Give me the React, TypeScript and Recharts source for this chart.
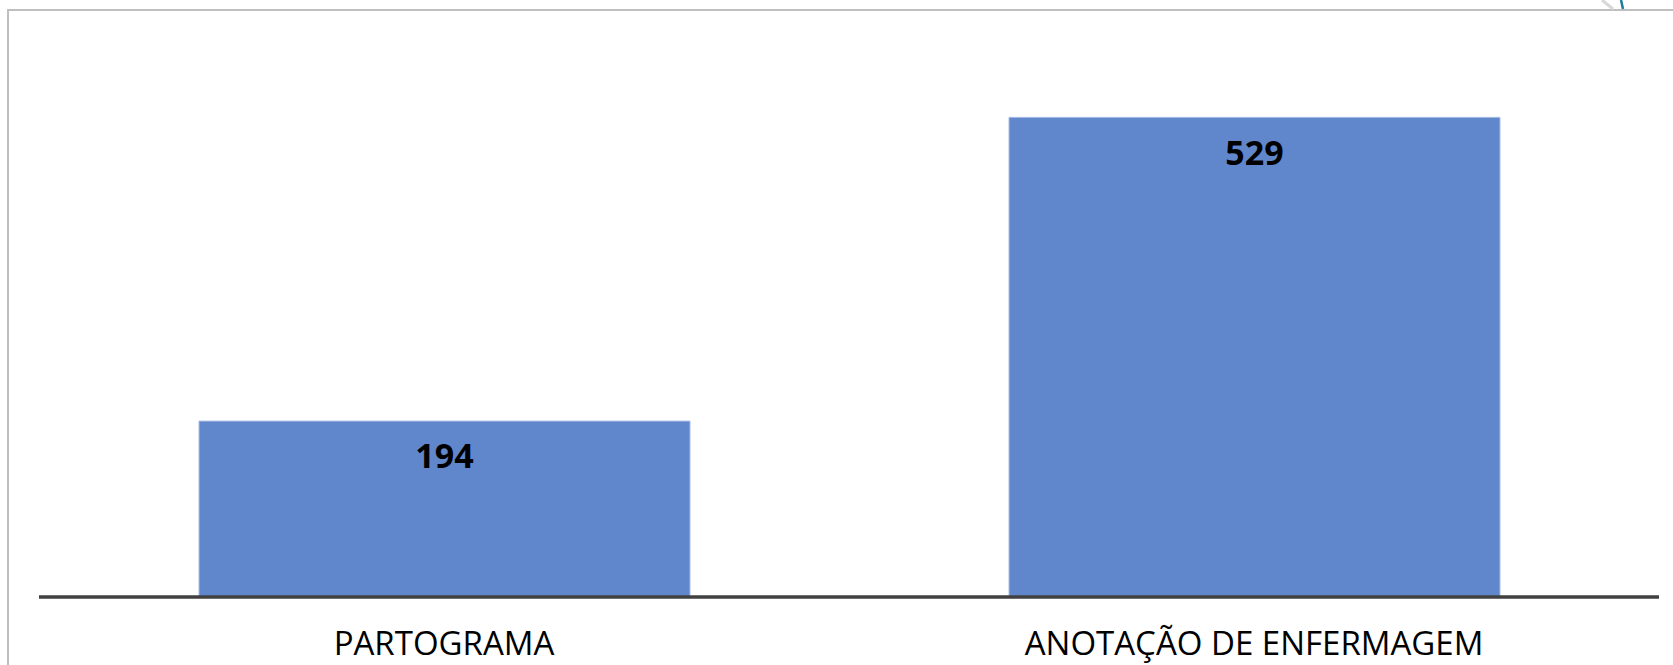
import React from "react";
import { BarChart, Bar, XAxis, YAxis, LabelList } from "recharts";

const categories = ["PARTOGRAMA", "ANOTAÇÃO DE ENFERMAGEM"];
const values = [194, 529];

const data = categories.map((name, i) => ({ name, value: values[i] }));

export default function App() {
  return (
    <div style={{ position: "absolute", left: 0, top: 0, width: 1673, height: 665, background: "#fff", overflow: "hidden" }}>
      <div
        style={{
          position: "absolute",
          left: 7,
          top: 9,
          width: 1673,
          height: 700,
          borderTop: "2px solid #bfbfbf",
          borderLeft: "2px solid #bfbfbf",
        }}
      />
      <svg style={{ position: "absolute", left: 0, top: 0 }} width={1673} height={665}>
        <line x1={1602} y1={0} x2={1613} y2={9} stroke="#d8d8d8" strokeWidth={3} />
        <line x1={1621} y1={0} x2={1623} y2={9} stroke="#1f7a9c" strokeWidth={2.5} />
      </svg>
      <div style={{ position: "absolute", left: 0, top: 0 }}>
        <BarChart
          width={1673}
          height={665}
          data={data}
          margin={{ top: 53, right: 14, left: 39, bottom: 8 }}
        >
          <YAxis hide domain={[0, 600]} />
          <XAxis
            dataKey="name"
            height={60}
            axisLine={{ stroke: "#404040", strokeWidth: 3.5 }}
            tickLine={false}
            tickSize={0}
            tickMargin={35}
            interval={0}
            tick={{ fill: "#000", fontSize: 33, fontFamily: "'Open Sans', sans-serif" }}
          />
          <Bar
            dataKey="value"
            fill="#6087cc"
            stroke="#a7bce4"
            strokeWidth={1}
            barSize={491}
            isAnimationActive={false}
          >
            <LabelList
              dataKey="value"
              position="insideTop"
              offset={23}
              fill="#000"
              style={{ fontSize: 34, fontWeight: 700, fontFamily: "'Open Sans', sans-serif" }}
            />
          </Bar>
        </BarChart>
      </div>
    </div>
  );
}
